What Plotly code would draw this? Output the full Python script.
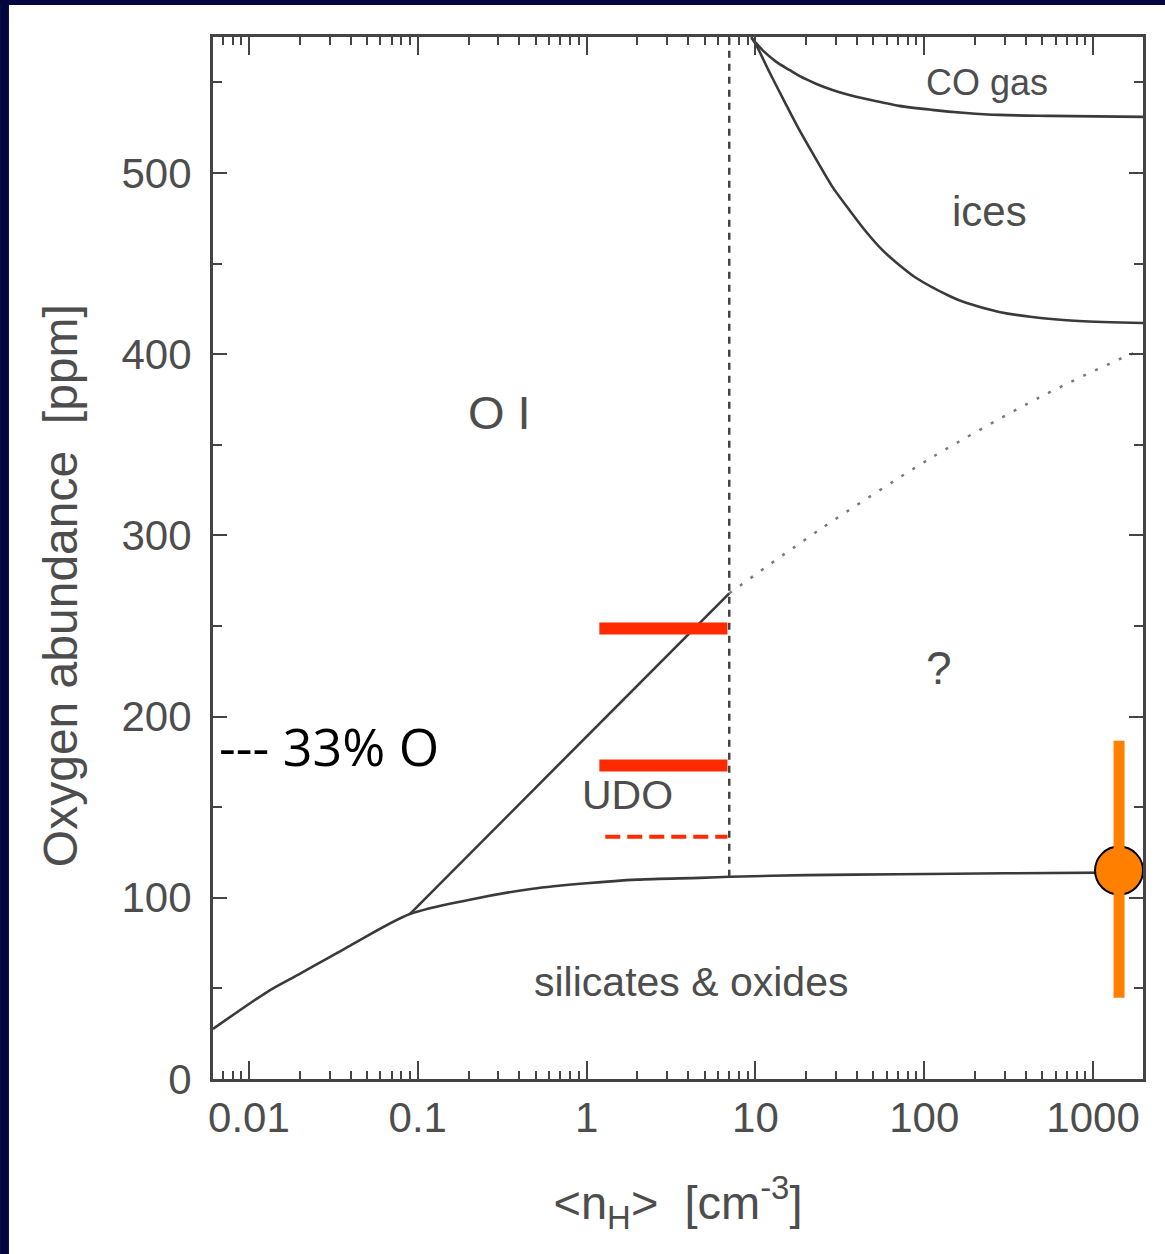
import math
import plotly.graph_objects as go

# ---------------- data ----------------
sil_nh = [0.00612, 0.0128, 0.02, 0.0396, 0.0897, 0.2, 0.48, 1.0, 2.0, 4.67, 7.0, 20, 70, 300, 1977]
sil_o = [27.6, 48.0, 58.0, 73.5, 91.0, 98.8, 105.0, 108.0, 110.0, 111.0, 111.6, 112.5, 113.0, 113.5, 114.0]

udo_nh = [0.0897, 7.0]
udo_o = [91.0, 268.0]

unk_nh = [7.0, 23.9, 111, 479, 1633, 1977]
unk_o = [268.0, 303.0, 343.0, 376.0, 399.5, 402.0]

ice_nh = [9.46, 10.1, 12.1, 14.9, 18.2, 23.0, 28.6, 36.0, 45.4, 56.4, 71.1, 89.7, 141, 177, 278, 436, 826, 1977]
ice_o = [575.0, 570.6, 555.7, 539.2, 523.7, 507.2, 492.3, 479.6, 467.4, 457.5, 449.2, 442.0, 432.1, 428.3, 423.3, 420.5, 418.3, 417.2]

co_nh = [9.46, 11.3, 13.3, 15.9, 18.2, 23.0, 28.6, 36.0, 45.4, 71.1, 111, 177, 278, 550, 1977]
co_o = [574.5, 566.8, 561.3, 556.8, 553.5, 549.1, 545.8, 543.0, 540.8, 537.0, 534.8, 533.1, 532.0, 531.5, 530.9]

edge_nh = [7.0, 7.0]
edge_o = [111.6, 575.0]

red_hi_nh = [1.19, 6.83]
red_hi_o = [248.6, 248.6]
red_lo_nh = [1.19, 6.83]
red_lo_o = [173.0, 173.0]
red_dash_nh = [1.29, 6.83]
red_dash_o = [133.7, 133.7]

obs_nh = [1426]
obs_o = [115.0]
obs_lo = [44.8]
obs_hi = [186.7]

x_tickvals = [0.01, 0.1, 1, 10, 100, 1000]
x_ticktext = ["0.01", "0.1", "1", "10", "100", "1000"]
y_tickvals = [0, 100, 200, 300, 400, 500]

# ---------------- figure ----------------
CURVE = "#3a3a3a"
TXT = "#4d4d4d"
FONT = "Liberation Sans, Arial, sans-serif"

fig = go.Figure()

def line(x, y, color=CURVE, width=2.6, dash=None, shape="linear"):
    fig.add_trace(go.Scatter(x=x, y=y, mode="lines", hoverinfo="skip",
                             line=dict(color=color, width=width, dash=dash, shape=shape,
                                       smoothing=0.8 if shape == "spline" else None)))

line(sil_nh, sil_o, shape="spline")
line(udo_nh, udo_o)
line(unk_nh, unk_o, color="#7a7a7a", width=2.5, dash="3px,10px", shape="spline")
line(ice_nh, ice_o, shape="spline")
line(co_nh, co_o, shape="spline")
line(edge_nh, edge_o, color="#444444", width=2.5, dash="7px,6px")

line(red_hi_nh, red_hi_o, color="#ff2a00", width=12)
line(red_lo_nh, red_lo_o, color="#ff2a00", width=12)
line(red_dash_nh, red_dash_o, color="#ff2a00", width=4, dash="15px,7px")

fig.add_trace(go.Scatter(x=obs_nh, y=obs_o, mode="markers", hoverinfo="skip",
                         marker=dict(size=48, color="#ff8000",
                                     line=dict(color="black", width=2))))
for xv, lo, hi in zip(obs_nh, obs_lo, obs_hi):
    line([xv, xv], [lo, hi], color="#ff8000", width=11)

# region labels
def label(text, lx, ly, size):
    fig.add_annotation(x=lx, y=ly, xref="x", yref="y", text=text, showarrow=False,
                       font=dict(family=FONT, size=size, color=TXT),
                       xanchor="center", yanchor="middle")

label("CO gas", 2.373, 550, 36)
label("ices", 2.385, 478.5, 42)
label("O I", -0.515, 368, 47)
label("?", 2.089, 227, 46)
label("UDO", 0.243, 156.7, 41)
label("silicates &amp; oxides", 0.621, 53.5, 41)

fig.add_annotation(x=-2.189, y=184, xref="x", yref="y", text="--- 33% O",
                   showarrow=False, xanchor="left", yanchor="middle",
                   font=dict(family="Open Sans, sans-serif", size=52, color="black"))

# y-axis title (placed as rotated text to match the reference's offset)
fig.add_annotation(x=-0.1645, y=0.473, xref="paper", yref="paper",
                   text="Oxygen abundance  [ppm]", textangle=-90, showarrow=False,
                   xanchor="center", yanchor="middle",
                   font=dict(family=FONT, size=48, color=TXT))

# background border strips (navy)
NAVY = "#04073f"
fig.add_shape(type="rect", xref="paper", yref="paper", x0=-0.2290, x1=-0.2194,
              y0=-0.168, y1=1.0355, fillcolor=NAVY, line=dict(width=0), layer="below")
fig.add_shape(type="rect", xref="paper", yref="paper", x0=-0.2290, x1=1.0237,
              y0=1.0307, y1=1.0355, fillcolor=NAVY, line=dict(width=0), layer="below")

axis_common = dict(showline=True, linecolor="#444444", linewidth=3, mirror="ticks",
                   ticks="inside", tickcolor="#444444", tickwidth=2,
                   showgrid=False, zeroline=False,
                   tickfont=dict(family=FONT, size=42, color=TXT))

fig.update_xaxes(type="log", range=[-2.213, 3.296], tickvals=x_tickvals, ticktext=x_ticktext,
                 ticklen=18, ticklabelstandoff=0,
                 minor=dict(ticks="inside", ticklen=8, tickwidth=2, tickcolor="#444444",
                            tickvals=[m * d for d in [0.001, 0.01, 0.1, 1, 10, 100, 1000]
                                      for m in range(2, 10)]),
                 title=dict(text="&lt;n<sub>H</sub>&gt;  [cm<sup>-3</sup>]",
                            font=dict(family=FONT, size=47, color=TXT), standoff=46),
                 **axis_common)
fig.update_yaxes(range=[0, 575], tickvals=y_tickvals, ticklen=14, ticklabelstandoff=10,
                 minor=dict(ticks="inside", ticklen=9, tickwidth=2, tickcolor="#444444",
                            dtick=50),
                 **axis_common)

fig.update_layout(width=1165, height=1254, showlegend=False,
                  paper_bgcolor="white", plot_bgcolor="white",
                  margin=dict(l=213, r=22, t=37, b=175, autoexpand=False))

fig.write_html("out.html")
